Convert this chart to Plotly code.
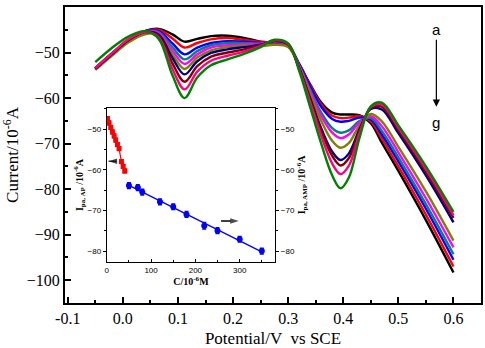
import numpy as np
import plotly.graph_objects as go

# ---- Differential pulse voltammograms (potential in V vs SCE, current in 1e-6 A) ----
potential = [-0.05, -0.02, 0.01, 0.04, 0.065, 0.09, 0.112, 0.135, 0.16, 0.19, 0.22, 0.25, 0.275,
             0.30, 0.32, 0.34, 0.36, 0.38, 0.395, 0.41, 0.43, 0.45, 0.47, 0.50, 0.55, 0.60]

curve_black = [-53.4, -50.2, -47.3, -45.3, -44.8, -46.0, -47.6, -47.0, -46.4, -46.3, -46.8, -47.6, -47.9,
               -48.6, -52.5, -57.0, -61.0, -63.2, -63.6, -63.6, -63.8, -65.5, -69.8, -76.0, -86.8, -98.3]
curve_red = [-53.5, -50.3, -47.3, -45.3, -45.0, -46.9, -48.9, -47.9, -47.1, -46.8, -47.2, -47.7, -47.8,
             -48.5, -52.6, -57.2, -61.4, -63.9, -64.4, -64.3, -64.0, -65.1, -68.9, -75.0, -85.6, -97.0]
curve_blue = [-53.5, -50.3, -47.3, -45.3, -45.3, -48.0, -50.4, -48.9, -47.9, -47.5, -47.6, -47.9, -47.7,
              -48.5, -52.6, -57.5, -61.9, -64.6, -65.2, -65.0, -64.3, -64.7, -68.0, -73.9, -84.3, -95.5]
curve_teal = [-53.6, -50.4, -47.4, -45.4, -45.5, -48.8, -51.5, -49.7, -48.4, -47.9, -47.9, -48.0, -47.7,
              -48.4, -52.9, -58.2, -63.2, -66.6, -67.6, -67.1, -65.0, -64.4, -67.2, -73.0, -83.3, -94.3]
curve_magenta = [-53.6, -50.4, -47.4, -45.4, -45.7, -49.6, -52.5, -50.4, -48.9, -48.4, -48.2, -48.1, -47.6,
                 -48.4, -53.0, -58.6, -63.9, -67.6, -68.8, -68.0, -65.3, -64.0, -66.2, -71.9, -82.0, -92.8]
curve_olive = [-53.8, -50.7, -47.8, -46.0, -46.1, -50.4, -53.6, -51.1, -49.5, -48.8, -48.5, -48.6, -48.3,
               -48.8, -53.2, -59.2, -65.0, -69.4, -70.9, -69.9, -65.9, -63.5, -65.1, -70.7, -80.5, -91.3]
curve_navy = [-53.6, -50.4, -47.3, -45.5, -46.1, -51.2, -54.8, -51.9, -50.1, -49.3, -48.8, -48.3, -47.5,
              -48.2, -53.4, -60.1, -66.6, -71.8, -73.6, -72.2, -66.7, -62.4, -62.5, -67.7, -77.0, -87.3]
curve_maroon = [-53.5, -50.3, -47.2, -45.5, -46.4, -52.4, -56.4, -53.0, -50.9, -50.0, -49.3, -48.4, -47.4,
                -48.2, -53.5, -60.4, -67.2, -72.7, -74.8, -73.2, -67.0, -62.2, -61.9, -67.0, -76.2, -86.3]
curve_pink = [-53.4, -50.2, -47.1, -45.5, -46.7, -53.6, -58.1, -54.2, -51.8, -50.7, -49.8, -48.6, -47.3,
              -48.1, -53.7, -61.0, -68.3, -74.4, -76.7, -74.9, -67.6, -62.0, -61.4, -66.5, -75.6, -85.7]
curve_green = [-52.1, -49.0, -46.5, -45.3, -47.0, -55.0, -60.0, -55.5, -52.8, -51.5, -50.3, -48.8, -47.2,
               -48.0, -54.0, -62.0, -70.0, -77.0, -79.8, -77.5, -68.5, -61.8, -61.0, -66.0, -75.0, -85.0]

curves = [curve_black, curve_red, curve_blue, curve_teal, curve_magenta,
          curve_olive, curve_navy, curve_maroon, curve_pink, curve_green]
colors = ["#000000", "#ff0000", "#0000ff", "#008080", "#ff00ff",
          "#808000", "#000080", "#800000", "#ff0080", "#008000"]

# ---- Calibration data (concentration in 1e-6 M, peak current in 1e-6 A) ----
conc_ap = [1.5, 5, 9, 12.7, 16.5, 20, 24, 27.7, 33, 37, 40.5]
ipa_ap = [-47.4, -48.5, -49.6, -50.7, -51.7, -52.7, -53.8, -54.8, -58.0, -59.2, -60.3]
err_ap = [0.5] * len(conc_ap)

conc_amp = [50, 70, 80, 120, 150, 180, 220, 250, 300, 350]
ipa_amp = [-63.9, -64.4, -65.5, -67.9, -69.1, -71.0, -73.8, -75.0, -77.1, -80.0]
err_amp = [0.7, 0.7, 0.7, 0.7, 0.7, 0.7, 0.8, 0.7, 0.7, 0.7]

# arrows inside the inset: which axis each branch belongs to
arrow_ap_x, arrow_ap_y = [22, 4], [-57.9, -57.9]
arrow_amp_x, arrow_amp_y = [258, 298], [-72.6, -72.6]

serif = "Liberation Serif, Times New Roman, serif"
sans = "Liberation Sans, Arial, sans-serif"

fig = go.Figure()

for y, c in zip(curves, colors):
    fig.add_trace(go.Scatter(x=potential, y=y, mode="lines",
                             line=dict(color=c, width=2.4, shape="spline", smoothing=1.0),
                             showlegend=False, hoverinfo="skip"))

# inset: AP calibration (left axis)
fig.add_trace(go.Scatter(x=conc_ap, y=ipa_ap, mode="lines+markers",
                         marker=dict(symbol="square", size=5, color="#ff0000"),
                         line=dict(color="#ff0000", width=1.2),
                         error_y=dict(type="data", array=err_ap, color="#ff0000", thickness=1.2, width=2),
                         xaxis="x2", yaxis="y2", showlegend=False))

# inset: AMP calibration (right axis) with least-squares line
slope, intercept = np.polyfit(conc_amp, ipa_amp, 1)
fit_x = [conc_amp[0], conc_amp[-1]]
fit_y = [slope * v + intercept for v in fit_x]
fig.add_trace(go.Scatter(x=fit_x, y=fit_y, mode="lines", line=dict(color="#0000ff", width=1.3),
                         xaxis="x2", yaxis="y3", showlegend=False))
fig.add_trace(go.Scatter(x=conc_amp, y=ipa_amp, mode="markers",
                         marker=dict(symbol="circle", size=6, color="#0000ff"),
                         error_y=dict(type="data", array=err_amp, color="#0000ff", thickness=1.5, width=2),
                         xaxis="x2", yaxis="y3", showlegend=False))

# inset arrows drawn as short lines ending in an arrow marker
for ax_x, ax_y, w in [(arrow_ap_x, arrow_ap_y, 1.0), (arrow_amp_x, arrow_amp_y, 1.4)]:
    fig.add_trace(go.Scatter(x=ax_x, y=ax_y, mode="lines+markers",
                             line=dict(color="black", width=w),
                             marker=dict(symbol="arrow", size=[0, 9], angleref="previous",
                                         color="black", line=dict(width=0)),
                             xaxis="x2", yaxis="y2", showlegend=False, hoverinfo="skip"))

main_axis = dict(showline=True, linecolor="black", linewidth=2, mirror=True,
                 ticks="inside", ticklen=6, tickwidth=2, tickcolor="black",
                 showgrid=False, zeroline=False,
                 tickfont=dict(family=serif, size=16, color="black"))

inset_font = dict(family=sans, size=8, color="black")
inset_title_font = dict(family=serif, size=10, color="black")

fig.update_layout(
    width=485, height=348,
    margin=dict(l=65, r=2, t=7, b=45),
    paper_bgcolor="white", plot_bgcolor="white",
    xaxis=dict(main_axis, range=[-0.105, 0.65], tickvals=[-0.1, 0.0, 0.1, 0.2, 0.3, 0.4, 0.5, 0.6],
               ticktext=["-0.1", "0.0", "0.1", "0.2", "0.3", "0.4", "0.5", "0.6"],
               minor=dict(dtick=0.05, ticks="inside", ticklen=3, tickwidth=1.5, tickcolor="black"),
               title=dict(text="Potential/V  vs SCE", font=dict(family=serif, size=17, color="black"),
                          standoff=6)),
    yaxis=dict(main_axis, range=[-105, -40], dtick=10,
               minor=dict(dtick=5, ticks="inside", ticklen=3, tickwidth=1.5, tickcolor="black"),
               title=dict(text="Current/10<sup>-6</sup>A", font=dict(family=serif, size=17, color="black"),
                          standoff=6)),
    xaxis2=dict(domain=[0.1005, 0.505], anchor="y2", range=[0, 380], dtick=100,
                showline=True, linecolor="black", linewidth=1.2, mirror=True,
                ticks="inside", ticklen=3, tickwidth=1, tickcolor="black",
                minor=dict(dtick=50, ticks="inside", ticklen=2, tickwidth=1, tickcolor="black"),
                showgrid=False, zeroline=False,
                tickfont=dict(family=sans, size=8, color="black"),
                title=dict(text="<b>C/10<sup>-6</sup>M</b>", font=inset_title_font, standoff=2)),
    yaxis2=dict(domain=[0.1385, 0.659], anchor="x2", range=[-82.7, -44.8], dtick=10,
                showline=True, linecolor="black", linewidth=1.2,
                ticks="outside", ticklen=3, tickwidth=1, tickcolor="black",
                minor=dict(dtick=5, ticks="outside", ticklen=2, tickwidth=1, tickcolor="black"),
                showgrid=False, zeroline=False, tickfont=inset_font,
                title=dict(text="<b>I<sub>pa, AP</sub> /10<sup>-6</sup>A</b>", font=inset_title_font,
                           standoff=2)),
    yaxis3=dict(overlaying="y2", anchor="x2", side="right", range=[-82.7, -44.8], dtick=10,
                showline=True, linecolor="black", linewidth=1.2,
                ticks="outside", ticklen=3, tickwidth=1, tickcolor="black",
                minor=dict(dtick=5, ticks="outside", ticklen=2, tickwidth=1, tickcolor="black"),
                showgrid=False, zeroline=False, tickfont=inset_font,
                title=dict(text="<b>I<sub>pa, AMP</sub> /10<sup>-6</sup>A</b>", font=inset_title_font,
                           standoff=2)),
)

# a -> g arrow marking increasing concentration: label "a" sits at the tail
fig.add_annotation(x=0.569, y=-61.9, ax=0.569, ay=-45.0, xref="x", yref="y", axref="x", ayref="y",
                   text="a", showarrow=True, arrowhead=2, arrowsize=1.2, arrowwidth=1.2,
                   arrowcolor="black", standoff=0, startstandoff=0,
                   font=dict(family=sans, size=15, color="black"))
fig.add_annotation(x=0.569, y=-65.4, text="g", showarrow=False,
                   font=dict(family=sans, size=15, color="black"))

fig.write_html("out.html")
